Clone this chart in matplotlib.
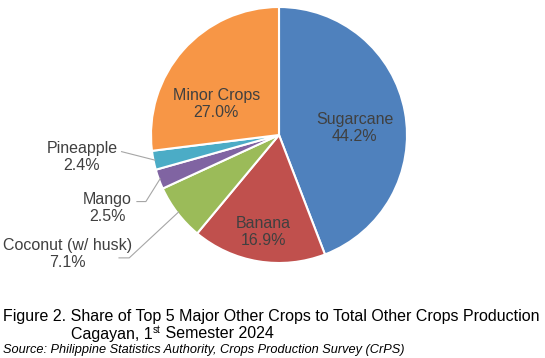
import numpy as np
import matplotlib.pyplot as plt

plt.rcParams['font.family'] = ['Liberation Sans', 'DejaVu Sans']

crops = ["Sugarcane", "Banana", "Coconut (w/ husk)", "Mango", "Pineapple", "Minor Crops"]
shares = [44.2, 16.9, 7.1, 2.5, 2.4, 27.0]
colors = ["#4F81BD", "#C0504D", "#9BBB59", "#8064A2", "#4BACC6", "#F79646"]

# label centres in pie units (radius = 1)
inside_pos = {"Sugarcane": (0.59, 0.055), "Banana": (-0.125, -0.76), "Minor Crops": (-0.49, 0.24)}
outside_pos = {
    "Coconut (w/ husk)": (-1.65, -0.93),
    "Mango": (-1.34, -0.57),
    "Pineapple": (-1.54, -0.17),
}

W, H = 545, 358
cx, cy, r = 279, 135, 128
fig = plt.figure(figsize=(W / 100, H / 100), dpi=100)
ax = fig.add_axes([(cx - r) / W, (H - cy - r) / H, 2 * r / W, 2 * r / H])

wedges, _ = ax.pie(shares, colors=colors, startangle=90, counterclock=False,
                   wedgeprops=dict(edgecolor="white", linewidth=1.5))
ax.set_xlim(-1, 1)
ax.set_ylim(-1, 1)
ax.set_aspect("equal")
ax.axis("off")

txt_col = "#404040"
for w, name, val in zip(wedges, crops, shares):
    mid = np.radians((w.theta1 + w.theta2) / 2)
    lbl = f"{name}\n{val:.1f}%"
    if name in inside_pos:
        tx, ty = inside_pos[name]
        ax.text(tx, ty, lbl, ha="center", va="center",
                fontsize=11.5, color=txt_col, linespacing=1.2)
    else:
        tx, ty = outside_pos[name]
        ax.text(tx, ty, lbl, ha="center", va="center", fontsize=11.5,
                color=txt_col, linespacing=1.2, clip_on=False)
        ex, ey = 0.99 * np.cos(mid), 0.99 * np.sin(mid)
        # leader line: short stub next to the first line, then to the wedge
        if name == "Pineapple":
            pts = [(-1.23, -0.13), (ex, ey)]
        elif name == "Mango":
            pts = [(-1.11, -0.52), (-1.04, -0.52), (ex, ey)]
        else:
            pts = [(-1.25, -0.96), (-1.17, -0.96), (ex, ey)]
        xs, ys = zip(*pts)
        ax.plot(xs, ys, color="#A6A6A6", lw=0.8, clip_on=False)

cap = 11.5
fig.text(3 / W, 1 - 317 / H, "Figure 2. Share of Top 5 Major Other Crops to Total Other Crops Production",
         fontsize=cap, va="center", ha="left", color="black")

# second caption line with a raised "st"
renderer = fig.canvas.get_renderer()
x0 = 71 / W
y2 = 1 - 334 / H
t1 = fig.text(x0, y2, "Cagayan, 1", fontsize=cap, va="center", ha="left")
x1 = t1.get_window_extent(renderer).x1 / (W)
t2 = fig.text(x1 + 0.5 / W, y2 + 4 / H, "st", fontsize=cap * 0.62, va="center", ha="left")
x2 = t2.get_window_extent(renderer).x1 / (W)
fig.text(x2, y2, " Semester 2024", fontsize=cap, va="center", ha="left")

fig.text(3 / W, 1 - 350 / H, "Source: Philippine Statistics Authority, Crops Production Survey (CrPS)",
         fontsize=9.2, style="italic", va="center", ha="left", color="black")

fig.savefig("out.png", dpi=100, facecolor="white")
